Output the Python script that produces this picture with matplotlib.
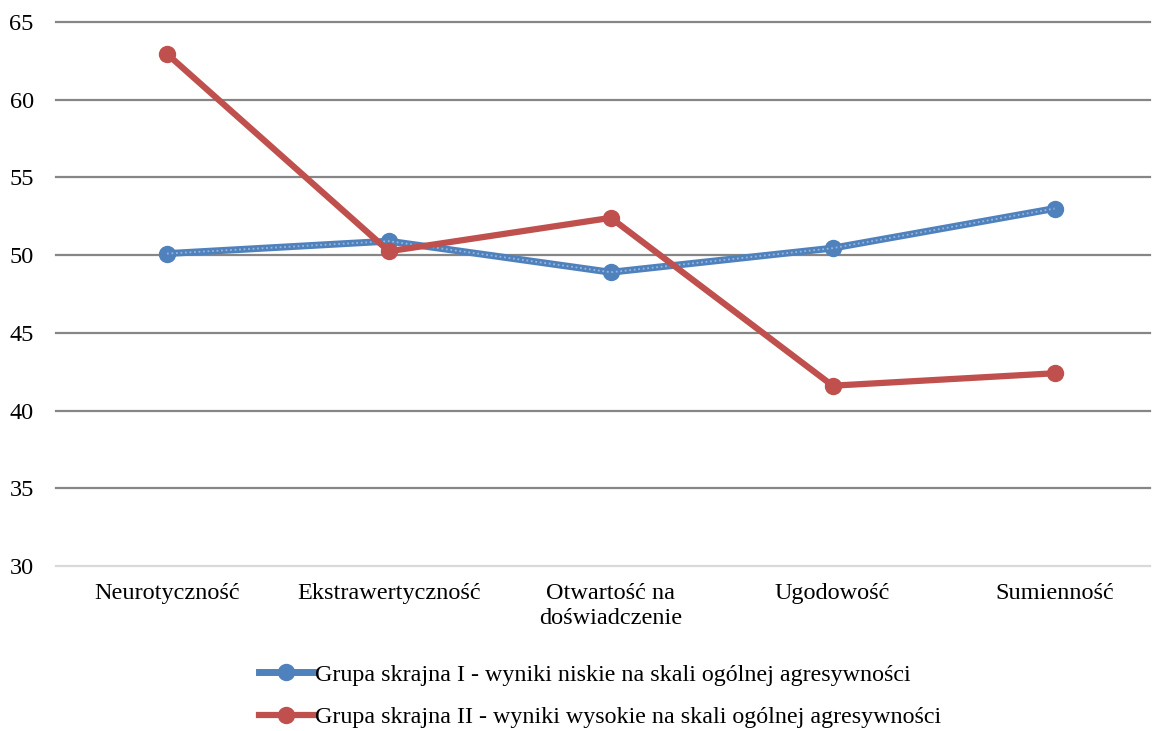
import matplotlib
matplotlib.use("Agg")
import matplotlib.pyplot as plt
from matplotlib.lines import Line2D
import numpy as np

plt.rcParams['font.family'] = ['Liberation Serif', 'DejaVu Serif']

categories = ['Neurotyczność', 'Ekstrawertyczność', 'Otwartość na\ndoświadczenie',
              'Ugodowość', 'Sumienność']
group_low = [50.1, 50.9, 48.9, 50.45, 53.0]
group_high = [62.95, 50.25, 52.4, 41.6, 42.4]
label_low = 'Grupa skrajna I - wyniki niskie na skali ogólnej agresywności'
label_high = 'Grupa skrajna II - wyniki wysokie na skali ogólnej agresywności'
yticks = [30, 35, 40, 45, 50, 55, 60, 65]

blue = '#4F81BD'
red = '#C0504D'

fig = plt.figure(figsize=(11.57, 7.31), dpi=100)
ax = fig.add_axes([56 / 1157, 165 / 731, 1094 / 1157, 544 / 731])

x = np.arange(len(categories))

# gridlines, the bottom one is the light category axis
for yv in yticks:
    col = '#D9D9D9' if yv == yticks[0] else '#868686'
    ax.axhline(yv, color=col, lw=1.6, zorder=1, clip_on=False)

ax.plot(x, group_low, color=blue, lw=5, marker='o', ms=11.5, solid_capstyle='round', zorder=3)
ax.plot(x, group_low, color='#A7C3E6', lw=1.3, ls=(0, (1, 1.5)), alpha=0.8, zorder=3)
ax.plot(x, group_high, color=red, lw=4.5, marker='o', ms=11.5, solid_capstyle='round', zorder=4)

ax.set_xlim(-0.5, 4.43)
ax.set_ylim(30, 65)
ax.set_yticks(yticks)
ax.set_xticks(x)
ax.set_xticklabels(categories, fontsize=17.5, linespacing=1.25)
ax.tick_params(axis='y', labelsize=17.5, length=0, pad=16)
ax.tick_params(axis='x', length=0, pad=12)
for s in ax.spines.values():
    s.set_visible(False)

h_low = Line2D([], [], color=blue, lw=5, marker='o', ms=11.5)
h_high = Line2D([], [], color=red, lw=4.5, marker='o', ms=11.5)
fig.legend([h_low, h_high], [label_low, label_high], loc='center',
           bbox_to_anchor=(600 / 1157, 35 / 731), frameon=False, fontsize=17.3,
           handlelength=2.3, handletextpad=0.05, labelspacing=0.85)

fig.savefig('out.png', dpi=100)
